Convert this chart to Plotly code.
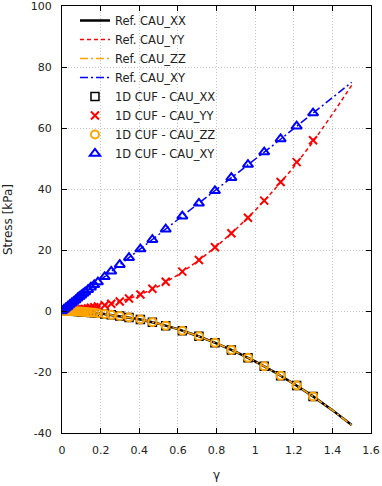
import plotly.graph_objects as go

# Reference curves (γ, stress in kPa)
ref_gamma = [0.0, 0.1, 0.2, 0.3, 0.4, 0.5, 0.6, 0.7, 0.8, 0.9, 1.0, 1.1, 1.2, 1.3, 1.4, 1.5]
ref_xx = [0.0, -0.22, -0.8, -1.65, -2.7, -4.15, -5.95, -8.1, -10.6, -13.4, -16.5, -20.0, -23.85, -28.0, -32.5, -37.4]
ref_yy = [0.0, 0.5, 1.6, 3.1, 5.2, 8.1, 11.8, 16.2, 21.2, 26.8, 33.0, 39.8, 47.2, 55.5, 64.5, 74.0]
ref_zz = [0.0, -0.22, -0.8, -1.65, -2.7, -4.15, -5.95, -8.1, -10.6, -13.4, -16.5, -20.0, -23.85, -28.0, -32.5, -37.4]
ref_xy = [0.0, 5.2, 10.2, 15.2, 20.0, 25.0, 30.0, 34.9, 39.8, 44.8, 49.7, 54.7, 59.8, 64.9, 69.9, 75.0]

# 1D CUF results
cuf_gamma = [0.0, 0.01, 0.02, 0.03, 0.04, 0.05, 0.06, 0.07, 0.08, 0.09, 0.10, 0.11, 0.12,
             0.135, 0.15, 0.167, 0.186, 0.221, 0.255, 0.299, 0.347, 0.406, 0.468, 0.537,
             0.623, 0.709, 0.792, 0.877, 0.963, 1.047, 1.132, 1.215, 1.30]
cuf_xx = [0.0, 0.0, -0.01, -0.02, -0.04, -0.06, -0.08, -0.11, -0.14, -0.18, -0.22, -0.26, -0.31,
          -0.39, -0.48, -0.6, -0.71, -0.98, -1.26, -1.65, -2.15, -2.78, -3.65, -4.8,
          -6.45, -8.3, -10.4, -12.75, -15.35, -18.15, -21.2, -24.45, -28.0]
cuf_yy = [0.0, 0.0, 0.02, 0.05, 0.08, 0.13, 0.18, 0.25, 0.32, 0.41, 0.5, 0.6, 0.7,
          0.87, 1.05, 1.25, 1.45, 1.9, 2.4, 3.1, 4.1, 5.4, 7.3, 9.6,
          12.9, 16.7, 20.9, 25.5, 30.6, 36.2, 42.3, 48.8, 56.0]
cuf_zz = [0.0, 0.0, -0.01, -0.02, -0.04, -0.06, -0.08, -0.11, -0.14, -0.18, -0.22, -0.26, -0.31,
          -0.39, -0.48, -0.6, -0.71, -0.98, -1.26, -1.65, -2.15, -2.78, -3.65, -4.8,
          -6.45, -8.3, -10.4, -12.75, -15.35, -18.15, -21.2, -24.45, -28.0]
cuf_xy = [0.0, 0.5, 1.0, 1.5, 2.1, 2.6, 3.1, 3.6, 4.2, 4.7, 5.2, 5.7, 6.2,
          7.0, 7.8, 8.6, 9.5, 11.2, 13.0, 15.2, 17.5, 20.3, 23.4, 26.8,
          31.1, 35.3, 39.4, 43.7, 48.0, 52.1, 56.4, 60.6, 64.9]

x_ticks = [0, 0.2, 0.4, 0.6, 0.8, 1.0, 1.2, 1.4, 1.6]
x_tick_labels = ["0", "0.2", "0.4", "0.6", "0.8", "1", "1.2", "1.4", "1.6"]
y_ticks = [-40, -20, 0, 20, 40, 60, 80, 100]
y_tick_labels = ["-40", "-20", "0", "20", "40", "60", "80", "100"]

FONT = "DejaVu Sans"
TXT = "#222222"

fig = go.Figure()
fig.add_trace(go.Scatter(x=ref_gamma, y=ref_xx, mode="lines", name="Ref. CAU_XX",
                         line=dict(color="black", width=2.5)))
fig.add_trace(go.Scatter(x=ref_gamma, y=ref_yy, mode="lines", name="Ref. CAU_YY",
                         line=dict(color="#ff0000", width=1.5, dash="4px,3px")))
fig.add_trace(go.Scatter(x=ref_gamma, y=ref_zz, mode="lines", name="Ref. CAU_ZZ",
                         line=dict(color="#ffa500", width=1.5, dash="8px,3px,2px,3px")))
fig.add_trace(go.Scatter(x=ref_gamma, y=ref_xy, mode="lines", name="Ref. CAU_XY",
                         line=dict(color="#0000ff", width=1.5, dash="8px,3px,2px,3px")))
fig.add_trace(go.Scatter(x=cuf_gamma, y=cuf_xx, mode="markers", name="1D CUF - CAU_XX",
                         marker=dict(symbol="square-open", size=8, color="black",
                                     line=dict(width=1.5, color="black"))))
fig.add_trace(go.Scatter(x=cuf_gamma, y=cuf_yy, mode="markers", name="1D CUF - CAU_YY",
                         marker=dict(symbol="x-thin-open", size=8, color="#ff0000",
                                     line=dict(width=2, color="#ff0000"))))
fig.add_trace(go.Scatter(x=cuf_gamma, y=cuf_zz, mode="markers", name="1D CUF - CAU_ZZ",
                         marker=dict(symbol="circle-open", size=8, color="#ffa500",
                                     line=dict(width=2, color="#ffa500"))))
fig.add_trace(go.Scatter(x=cuf_gamma, y=cuf_xy, mode="markers", name="1D CUF - CAU_XY",
                         marker=dict(symbol="triangle-up-open", size=9, color="#0000ff",
                                     line=dict(width=2, color="#0000ff"))))

axis_common = dict(
    showline=True, linecolor="black", linewidth=1, mirror="allticks",
    ticks="inside", ticklen=5, tickcolor="black", tickwidth=1,
    showgrid=True, gridcolor="#c4c4c4", griddash="1px,2px", gridwidth=1,
    zeroline=False, automargin=False, ticklabelstandoff=7,
    ticklabeloverflow="allow",
    tickfont=dict(family=FONT, size=11, color=TXT),
)

fig.update_layout(
    width=382, height=486,
    margin=dict(l=62, r=11, t=6, b=53),
    paper_bgcolor="white", plot_bgcolor="white",
    font=dict(family=FONT, size=12, color=TXT),
    showlegend=True,
    legend=dict(x=0.042, y=1.0, xanchor="left", yanchor="top",
                bgcolor="rgba(0,0,0,0)", borderwidth=0,
                font=dict(family=FONT, size=11.5, color=TXT),
                tracegroupgap=0),
    xaxis=dict(range=[0, 1.6], tickvals=x_ticks, ticktext=x_tick_labels,
               title=dict(text="γ", font=dict(family=FONT, size=12, color=TXT), standoff=14),
               **axis_common),
    yaxis=dict(range=[-40, 100], tickvals=y_ticks, ticktext=y_tick_labels,
               title=dict(text="Stress [kPa]", font=dict(family=FONT, size=12, color=TXT), standoff=15),
               **axis_common),
)

fig.write_html(
    "out.html",
    config={"displayModeBar": False},
    post_script="document.body.style.margin='0px';document.body.style.padding='0px';",
)
